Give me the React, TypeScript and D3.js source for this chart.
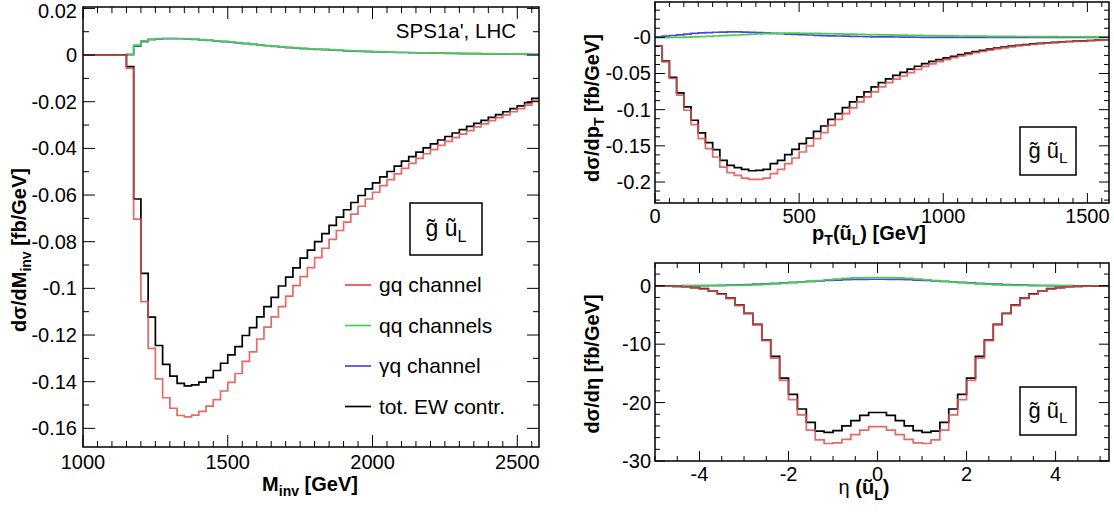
import React from "react";
import * as d3 from "d3";

// ---------------- Data ----------------
// Left panel: dσ/dM_inv, 25 GeV bins starting at 1000 GeV
const MINV_START = 1000;
const MINV_BIN = 25;
const MINV_TOT = [
  0, 0, 0, 0, 0, 0,
  -0.0050, -0.0617, -0.0936, -0.1123, -0.1245, -0.1326, -0.1376, -0.1407, -0.1418, -0.1414,
  -0.1402, -0.1383, -0.1352, -0.1321, -0.1285, -0.1250, -0.1202, -0.1168, -0.1122, -0.1078,
  -0.1039, -0.0990, -0.0952, -0.0912, -0.0870, -0.0836, -0.0800, -0.0765, -0.0730, -0.0695,
  -0.0663, -0.0632, -0.0602, -0.0574, -0.0548, -0.0522, -0.0499, -0.0476, -0.0455, -0.0435,
  -0.0416, -0.0398, -0.0381, -0.0364, -0.0349, -0.0334, -0.0320, -0.0306, -0.0293, -0.0280,
  -0.0267, -0.0255, -0.0243, -0.0230, -0.0218, -0.0204, -0.0186,
];
const MINV_GQ = [
  0, 0, 0, 0, 0, 0,
  -0.0057, -0.0703, -0.1057, -0.1257, -0.1388, -0.1469, -0.1514, -0.1545, -0.1551, -0.1543,
  -0.1527, -0.1505, -0.1477, -0.1440, -0.1403, -0.1365, -0.1313, -0.1272, -0.1217, -0.1166,
  -0.1122, -0.1078, -0.1033, -0.0988, -0.0950, -0.0911, -0.0868, -0.0828, -0.0790, -0.0752,
  -0.0716, -0.0682, -0.0648, -0.0617, -0.0588, -0.0560, -0.0534, -0.0509, -0.0486, -0.0464,
  -0.0443, -0.0423, -0.0405, -0.0387, -0.0370, -0.0354, -0.0339, -0.0324, -0.0308, -0.0295,
  -0.0281, -0.0268, -0.0256, -0.0243, -0.0230, -0.0215, -0.0195,
];
const MINV_QQ = [
  0, 0, 0, 0, 0, 0,
  0.0003, 0.0043, 0.0061, 0.0068, 0.0071, 0.0072, 0.0072, 0.0071, 0.0070, 0.0068,
  0.0066, 0.0064, 0.0061, 0.0059, 0.0056, 0.0053, 0.0050, 0.0047, 0.0044, 0.0041,
  0.0038, 0.0036, 0.0033, 0.0031, 0.0029, 0.0027, 0.0025, 0.0024, 0.0022, 0.0021,
  0.0019, 0.0018, 0.0017, 0.0016, 0.0015, 0.0014, 0.0013, 0.0012, 0.0011, 0.0011,
  0.0010, 0.0009, 0.0009, 0.0008, 0.0008, 0.0007, 0.0007, 0.0006, 0.0006, 0.0006,
  0.0005, 0.0005, 0.0005, 0.0004, 0.0004, 0.0004, 0.0003,
];
const MINV_GAQ = [
  0, 0, 0, 0, 0, 0,
  0.0002, 0.0038, 0.0057, 0.0066, 0.0069, 0.0070, 0.0070, 0.0070, 0.0069, 0.0067,
  0.0065, 0.0063, 0.0060, 0.0058, 0.0055, 0.0052, 0.0049, 0.0046, 0.0043, 0.0040,
  0.0037, 0.0035, 0.0032, 0.0030, 0.0028, 0.0026, 0.0024, 0.0023, 0.0021, 0.0020,
  0.0018, 0.0017, 0.0016, 0.0015, 0.0014, 0.0013, 0.0012, 0.0011, 0.0011, 0.0010,
  0.0009, 0.0009, 0.0008, 0.0008, 0.0007, 0.0007, 0.0006, 0.0006, 0.0006, 0.0005,
  0.0005, 0.0005, 0.0004, 0.0004, 0.0004, 0.0003, 0.0003,
];

// Top right: dσ/dpT, 25 GeV bins from 0
const PT_START = 0;
const PT_BIN = 25;
const PT_TOT = [
  -0.0117, -0.0329, -0.0555, -0.0768, -0.0962, -0.1146, -0.1322, -0.1456, -0.1553, -0.1700,
  -0.1770, -0.1802, -0.1825, -0.1844, -0.1839, -0.1825, -0.1747, -0.1700, -0.1622, -0.1548,
  -0.1470, -0.1392, -0.1300, -0.1226, -0.1134, -0.1054, -0.0971, -0.0893, -0.0823, -0.0754,
  -0.0685, -0.0625, -0.0575, -0.0527, -0.0484, -0.0440, -0.0400, -0.0364, -0.0333, -0.0308,
  -0.0285, -0.0262, -0.0240, -0.0218, -0.0198, -0.0180, -0.0163, -0.0148, -0.0134, -0.0121,
  -0.0110, -0.0100, -0.0091, -0.0083, -0.0076, -0.0069, -0.0063, -0.0058, -0.0053, -0.0048,
  -0.0044, -0.0040, -0.0037,
];
const PT_GQ = [
  -0.0117, -0.0339, -0.0569, -0.0800, -0.1008, -0.1207, -0.1400, -0.1539, -0.1654, -0.1793,
  -0.1871, -0.1907, -0.1945, -0.1963, -0.1963, -0.1945, -0.1885, -0.1825, -0.1747, -0.1668,
  -0.1585, -0.1502, -0.1400, -0.1317, -0.1216, -0.1134, -0.1054, -0.0976, -0.0893, -0.0823,
  -0.0754, -0.0685, -0.0625, -0.0579, -0.0535, -0.0487, -0.0443, -0.0403, -0.0367, -0.0336,
  -0.0308, -0.0282, -0.0258, -0.0235, -0.0213, -0.0194, -0.0176, -0.0160, -0.0145, -0.0131,
  -0.0119, -0.0108, -0.0098, -0.0089, -0.0081, -0.0074, -0.0067, -0.0061, -0.0056, -0.0051,
  -0.0046, -0.0042, -0.0038,
];
const PT_QQ = [
  -0.0005, -0.0004, -0.0002, 0.0000, 0.0003, 0.0006, 0.0010, 0.0014, 0.0018, 0.0022,
  0.0027, 0.0032, 0.0037, 0.0042, 0.0047, 0.0051, 0.0054, 0.0056, 0.0057, 0.0057,
  0.0056, 0.0055, 0.0053, 0.0051, 0.0049, 0.0047, 0.0045, 0.0043, 0.0041, 0.0039,
  0.0037, 0.0035, 0.0033, 0.0031, 0.0029, 0.0027, 0.0026, 0.0024, 0.0023, 0.0021,
  0.0020, 0.0019, 0.0018, 0.0017, 0.0016, 0.0015, 0.0014, 0.0013, 0.0013, 0.0012,
  0.0011, 0.0011, 0.0010, 0.0010, 0.0009, 0.0009, 0.0008, 0.0008, 0.0008, 0.0007,
  0.0007, 0.0007, 0.0006,
];
const PT_GAQ = [
  0.0005, 0.0015, 0.0025, 0.0035, 0.0045, 0.0053, 0.0060, 0.0066, 0.0070, 0.0073,
  0.0074, 0.0074, 0.0072, 0.0069, 0.0065, 0.0060, 0.0055, 0.0050, 0.0045, 0.0040,
  0.0036, 0.0032, 0.0028, 0.0024, 0.0021, 0.0018, 0.0015, 0.0013, 0.0011, 0.0009,
  0.0007, 0.0006, 0.0005, 0.0004, 0.0003, 0.0002, 0.0001, 0.0000, -0.0001, -0.0001,
  -0.0002, -0.0002, -0.0002, -0.0002, -0.0002, -0.0002, -0.0002, -0.0002, -0.0002, -0.0002,
  -0.0002, -0.0002, -0.0002, -0.0002, -0.0002, -0.0002, -0.0002, -0.0002, -0.0002, -0.0002,
  -0.0002, -0.0002, -0.0002,
];

// Bottom right: dσ/dη, 0.2 bins from -5
const ETA_START = -5;
const ETA_BIN = 0.2;
const ETA_TOT = [
  -0.03, -0.06, -0.10, -0.17, -0.30, -0.50, -0.90, -1.40, -2.10, -3.30,
  -4.70, -6.60, -9.30, -12.1, -15.8, -18.6, -21.1, -23.4, -24.9, -25.1,
  -24.8, -24.0, -23.1, -22.2, -21.7, -21.7, -22.2, -23.1, -24.0, -24.8,
  -25.1, -24.9, -23.4, -21.1, -18.6, -15.8, -12.1, -9.30, -6.60, -4.70,
  -3.30, -2.10, -1.40, -0.90, -0.50, -0.30, -0.17, -0.10, -0.06, -0.03,
  -0.01,
];
const ETA_GQ = [
  -0.03, -0.06, -0.11, -0.18, -0.32, -0.55, -0.92, -1.45, -2.20, -3.40,
  -4.80, -6.70, -9.40, -12.4, -16.2, -19.5, -22.1, -24.7, -26.4, -27.0,
  -26.9, -26.3, -25.5, -24.7, -24.1, -24.1, -24.7, -25.5, -26.3, -26.9,
  -27.0, -26.4, -24.7, -22.1, -19.5, -16.2, -12.4, -9.40, -6.70, -4.80,
  -3.40, -2.20, -1.45, -0.92, -0.55, -0.32, -0.18, -0.11, -0.06, -0.03,
  -0.01,
];
const ETA_QQ = [
  0, 0, 0, 0, 0, 0.01, 0.02, 0.03, 0.05, 0.08,
  0.12, 0.17, 0.24, 0.32, 0.41, 0.52, 0.64, 0.77, 0.90, 1.03,
  1.16, 1.27, 1.35, 1.40, 1.42, 1.42, 1.40, 1.35, 1.27, 1.16,
  1.03, 0.90, 0.77, 0.64, 0.52, 0.41, 0.32, 0.24, 0.17, 0.12,
  0.08, 0.05, 0.03, 0.02, 0.01, 0, 0, 0, 0, 0,
  0,
];
const ETA_GAQ = [
  0, 0, 0, 0.01, 0.02, 0.03, 0.05, 0.08, 0.11, 0.16,
  0.21, 0.27, 0.34, 0.42, 0.50, 0.58, 0.67, 0.75, 0.83, 0.90,
  0.97, 1.03, 1.08, 1.11, 1.12, 1.12, 1.11, 1.08, 1.03, 0.97,
  0.90, 0.83, 0.75, 0.67, 0.58, 0.50, 0.42, 0.34, 0.27, 0.21,
  0.16, 0.11, 0.08, 0.05, 0.03, 0.02, 0.01, 0, 0, 0,
  0,
];

// Axis ticks
const MINV_X_TICKS = [1000, 1500, 2000, 2500];
const MINV_X_LABELS = ["1000", "1500", "2000", "2500"];
const MINV_Y_TICKS = [0.02, 0, -0.02, -0.04, -0.06, -0.08, -0.1, -0.12, -0.14, -0.16];
const MINV_Y_LABELS = ["0.02", "0", "-0.02", "-0.04", "-0.06", "-0.08", "-0.1", "-0.12", "-0.14", "-0.16"];
const PT_X_TICKS = [0, 500, 1000, 1500];
const PT_X_LABELS = ["0", "500", "1000", "1500"];
const PT_Y_TICKS = [0, -0.05, -0.1, -0.15, -0.2];
const PT_Y_LABELS = ["-0", "-0.05", "-0.1", "-0.15", "-0.2"];
const ETA_X_TICKS = [-4, -2, 0, 2, 4];
const ETA_X_LABELS = ["-4", "-2", "0", "2", "4"];
const ETA_Y_TICKS = [0, -10, -20, -30];
const ETA_Y_LABELS = ["0", "-10", "-20", "-30"];

const LEGEND = [
  { label: "gq channel", key: "gq" },
  { label: "qq channels", key: "qq" },
  { label: "γq channel", key: "gaq" },
  { label: "tot. EW contr.", key: "tot" },
];

// ---------------- Styling ----------------
const COLORS: Record<string, string> = {
  gq: "#e0504c",
  qq: "#4ccc4c",
  gaq: "#4a4ae0",
  tot: "#000000",
};
const FONT = "'Liberation Sans', Arial, Helvetica, sans-serif";

type Series = { key: string; values: number[] };

function stepPath(values: number[], start: number, width: number, x: any, y: any) {
  const pts: [number, number][] = values.map((v, i) => [start + i * width, v]);
  pts.push([start + values.length * width, values[values.length - 1]]);
  return (
    d3
      .line<[number, number]>()
      .x((d) => x(d[0]))
      .y((d) => y(d[1]))
      .curve(d3.curveStepAfter)(pts) || ""
  );
}

function minorRange(d0: number, d1: number, step: number) {
  const out: number[] = [];
  const k0 = Math.ceil(d0 / step - 1e-9);
  const k1 = Math.floor(d1 / step + 1e-9);
  for (let k = k0; k <= k1; k++) out.push(k * step);
  return out;
}

type PanelProps = {
  id: string;
  box: { l: number; r: number; t: number; b: number };
  xDomain: [number, number];
  yDomain: [number, number];
  xTicks: number[];
  xLabels: string[];
  xMinor: number;
  yTicks: number[];
  yLabels: string[];
  yMinor: number;
  major: number;
  minor: number;
  series: Series[];
  start: number;
  bin: number;
  fontSize: number;
  xLabelDy: number;
  yLabelDx: number;
};

function Panel(p: PanelProps) {
  const { l, r, t, b } = p.box;
  const x = d3.scaleLinear().domain(p.xDomain).range([l, r]);
  const y = d3.scaleLinear().domain(p.yDomain).range([b, t]);
  const xMin = minorRange(p.xDomain[0], p.xDomain[1], p.xMinor);
  const yMin = minorRange(p.yDomain[0], p.yDomain[1], p.yMinor);
  const isMajX = (v: number) => p.xTicks.some((m) => Math.abs(m - v) < 1e-6);
  const isMajY = (v: number) => p.yTicks.some((m) => Math.abs(m - v) < 1e-6);
  const order = ["gaq", "qq", "tot", "gq"];
  return (
    <g>
      <defs>
        <clipPath id={`clip-${p.id}`}>
          <rect x={l} y={t} width={r - l} height={b - t} />
        </clipPath>
      </defs>
      <g clipPath={`url(#clip-${p.id})`}>
        {order.map((k) => {
          const s = p.series.find((q) => q.key === k);
          if (!s) return null;
          return (
            <path
              key={k}
              d={stepPath(s.values, p.start, p.bin, x, y)}
              fill="none"
              stroke={COLORS[k]}
              strokeWidth={1.7}
              strokeOpacity={k === "gq" ? 0.85 : 1}
            />
          );
        })}
      </g>
      <g stroke="#000" strokeWidth={1}>
        {xMin.map((v) => {
          const len = isMajX(v) ? p.major : p.minor;
          const xx = x(v);
          return (
            <g key={`xt${v}`}>
              <line x1={xx} x2={xx} y1={b} y2={b - len} />
              <line x1={xx} x2={xx} y1={t} y2={t + len} />
            </g>
          );
        })}
        {yMin.map((v) => {
          const len = isMajY(v) ? p.major : p.minor;
          const yy = y(v);
          return (
            <g key={`yt${v}`}>
              <line x1={l} x2={l + len} y1={yy} y2={yy} />
              <line x1={r} x2={r - len} y1={yy} y2={yy} />
            </g>
          );
        })}
      </g>
      <rect x={l} y={t} width={r - l} height={b - t} fill="none" stroke="#000" strokeWidth={1.5} />
      <g fontFamily={FONT} fontSize={p.fontSize} fill="#000">
        {p.xTicks.map((v, i) => (
          <text key={`xl${v}`} x={x(v)} y={b + p.xLabelDy} textAnchor="middle">
            {p.xLabels[i]}
          </text>
        ))}
        {p.yTicks.map((v, i) => (
          <text key={`yl${v}`} x={l - p.yLabelDx} y={Math.max(y(v), 11)} dy="0.35em" textAnchor="end">
            {p.yLabels[i]}
          </text>
        ))}
      </g>
    </g>
  );
}

function Tag({ x, y, w, h, fs }: { x: number; y: number; w: number; h: number; fs: number }) {
  return (
    <g>
      <rect x={x} y={y} width={w} height={h} fill="#fff" stroke="#000" strokeWidth={1.5} />
      <text x={x + w / 2} y={y + h / 2} dy="0.3em" textAnchor="middle" fontFamily={FONT} fontSize={fs}>
        {"g\u0303 u\u0303"}
        <tspan fontSize={fs * 0.7} dy="0.35em">L</tspan>
      </text>
    </g>
  );
}

export default function App() {
  const leftBox = { l: 83, r: 539, t: 7, b: 447 };
  const trBox = { l: 655, r: 1109, t: 2, b: 203 };
  const brBox = { l: 655, r: 1109, t: 263, b: 461 };
  return (
    <svg width={1114} height={512} style={{ display: "block", position: "absolute", left: 0, top: 0 }}>
      <rect width={1114} height={512} fill="#fff" />
      <Panel
        id="minv"
        box={leftBox}
        xDomain={[1000, 2575]}
        yDomain={[-0.168, 0.0206]}
        xTicks={MINV_X_TICKS}
        xLabels={MINV_X_LABELS}
        xMinor={50}
        yTicks={MINV_Y_TICKS}
        yLabels={MINV_Y_LABELS}
        yMinor={0.01}
        major={12}
        minor={6}
        start={MINV_START}
        bin={MINV_BIN}
        fontSize={20}
        xLabelDy={22}
        yLabelDx={6}
        series={[
          { key: "tot", values: MINV_TOT },
          { key: "gq", values: MINV_GQ },
          { key: "qq", values: MINV_QQ },
          { key: "gaq", values: MINV_GAQ },
        ]}
      />
      <Panel
        id="pt"
        box={trBox}
        xDomain={[0, 1575]}
        yDomain={[-0.229, 0.0488]}
        xTicks={PT_X_TICKS}
        xLabels={PT_X_LABELS}
        xMinor={50}
        yTicks={PT_Y_TICKS}
        yLabels={PT_Y_LABELS}
        yMinor={0.0125}
        major={10}
        minor={5}
        start={PT_START}
        bin={PT_BIN}
        fontSize={20}
        xLabelDy={20}
        yLabelDx={4}
        series={[
          { key: "tot", values: PT_TOT },
          { key: "gq", values: PT_GQ },
          { key: "qq", values: PT_QQ },
          { key: "gaq", values: PT_GAQ },
        ]}
      />
      <Panel
        id="eta"
        box={brBox}
        xDomain={[-5, 5.2]}
        yDomain={[-30, 3.9]}
        xTicks={ETA_X_TICKS}
        xLabels={ETA_X_LABELS}
        xMinor={0.5}
        yTicks={ETA_Y_TICKS}
        yLabels={ETA_Y_LABELS}
        yMinor={2}
        major={10}
        minor={5}
        start={ETA_START}
        bin={ETA_BIN}
        fontSize={20}
        xLabelDy={20}
        yLabelDx={4}
        series={[
          { key: "tot", values: ETA_TOT },
          { key: "gq", values: ETA_GQ },
          { key: "qq", values: ETA_QQ },
          { key: "gaq", values: ETA_GAQ },
        ]}
      />

      <text x={516} y={38} textAnchor="end" fontFamily={FONT} fontSize={20.5}>
        SPS1a', LHC
      </text>
      <Tag x={410} y={203} w={72} h={52} fs={23} />
      <g fontFamily={FONT} fontSize={21}>
        {LEGEND.map((e, i) => (
          <g key={e.key}>
            <line x1={345} x2={371} y1={285 + i * 40.5} y2={285 + i * 40.5} stroke={COLORS[e.key]} strokeWidth={1.7} />
            <text x={379} y={285 + i * 40.5} dy="0.35em">
              {e.label}
            </text>
          </g>
        ))}
      </g>
      <Tag x={1020} y={127} w={56} h={48} fs={22} />
      <Tag x={1020} y={387} w={56} h={48} fs={22} />

      <g fontFamily={FONT} fontWeight="bold" fontSize={20}>
        <text x={310} y={491} textAnchor="middle">
          {"M"}
          <tspan fontSize={14} dy="5">inv</tspan>
          <tspan dy="-5">{" [GeV]"}</tspan>
        </text>
        <text transform="translate(26,250) rotate(-90)" textAnchor="middle">
          {"dσ/dM"}
          <tspan fontSize={14} dy="5">inv</tspan>
          <tspan dy="-5">{" [fb/GeV]"}</tspan>
        </text>
        <text x={869} y={240} textAnchor="middle">
          {"p"}
          <tspan fontSize={14} dy="5">T</tspan>
          <tspan dy="-5">{"(u\u0303"}</tspan>
          <tspan fontSize={14} dy="5">L</tspan>
          <tspan dy="-5">{") [GeV]"}</tspan>
        </text>
        <text transform="translate(599,108) rotate(-90)" textAnchor="middle">
          {"dσ/dp"}
          <tspan fontSize={14} dy="5">T</tspan>
          <tspan dy="-5">{" [fb/GeV]"}</tspan>
        </text>
        <text transform="translate(599,364) rotate(-90)" textAnchor="middle">
          {"dσ/dη [fb/GeV]"}
        </text>
        <text x={864} y={494} textAnchor="middle">
          <tspan fontWeight="normal">{"η "}</tspan>
          <tspan>{"(u\u0303"}</tspan>
          <tspan fontSize={14} dy="6">L</tspan>
          <tspan dy="-6">{")"}</tspan>
        </text>
      </g>
    </svg>
  );
}
